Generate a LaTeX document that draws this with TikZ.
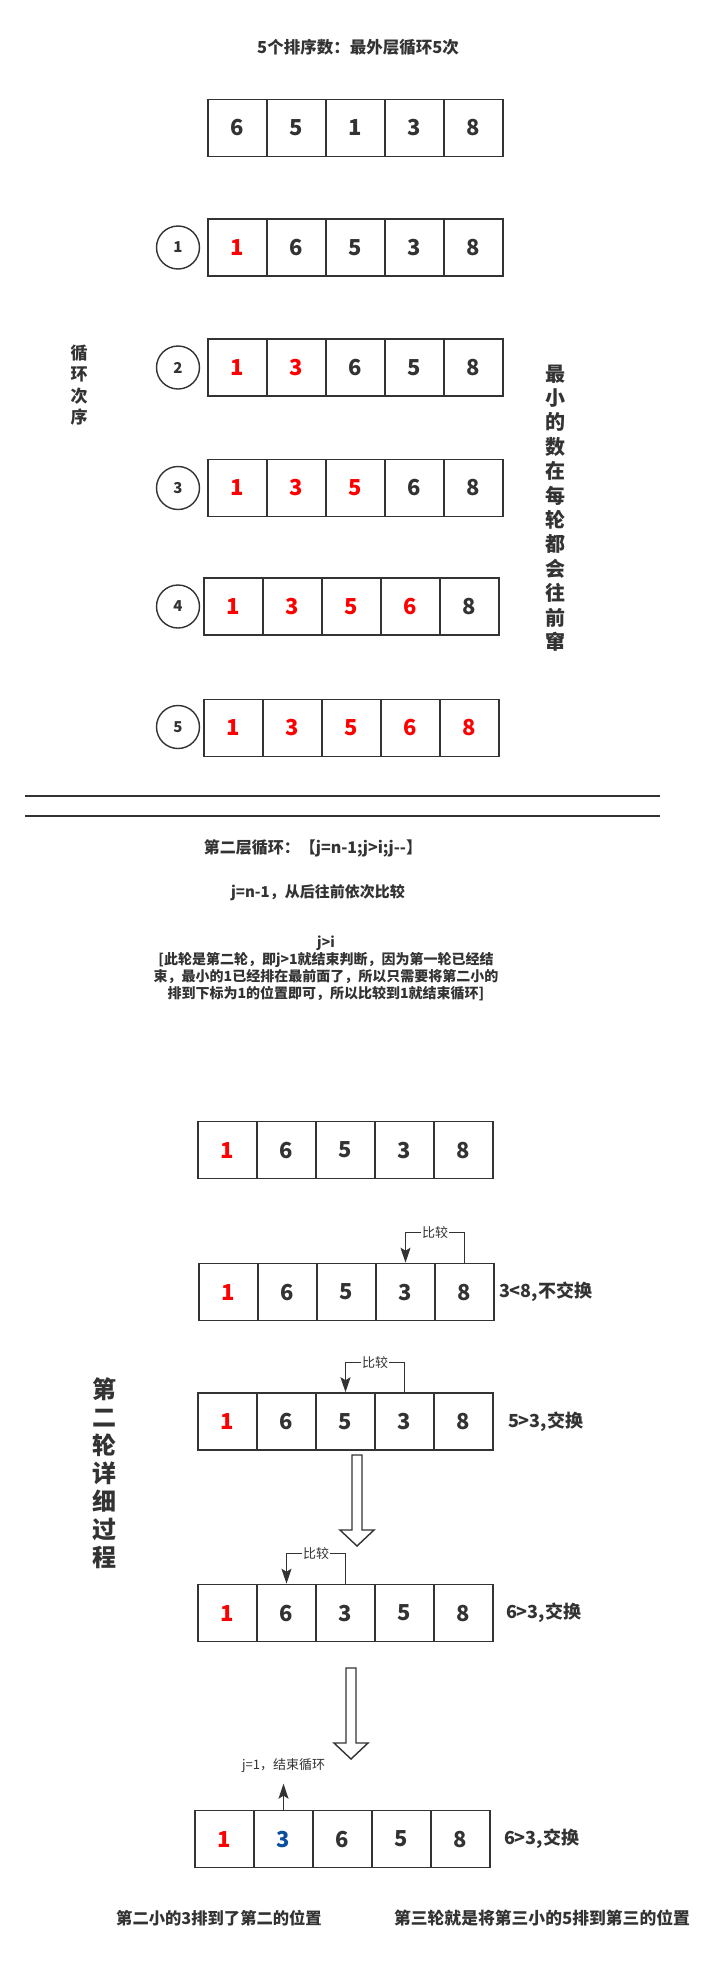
\documentclass[tikz,border=0pt]{standalone}
\usepackage{fontspec}
\setmainfont{Noto Sans CJK SC}
\usepackage{xcolor}
\usepackage{tikz}
\usetikzlibrary{positioning}
\usetikzlibrary{arrows.meta}
\definecolor{ink}{HTML}{333333}
\definecolor{hot}{HTML}{FF0000}
\definecolor{cool}{HTML}{0A4F9E}
\newcommand{\px}[1]{\fontsize{#1}{#1}\selectfont}
% five boxes in a row: name, left edge, middle height, value/colour list
\newcommand{\boxrow}[4]{%
  \foreach \v/\c [count=\k] in {#4}
    \node[cell,text=\c] (#1\k) at ({#2+29.5+59*(\k-1)},#3) {\v};}

\begin{document}
\begin{tikzpicture}[x=1pt,y=-1pt,>={Stealth[length=15pt,width=10pt,inset=3pt]},
  cell/.style={draw=ink,line width=1.6pt,minimum width=59pt,minimum height=57pt,inner sep=0pt,font=\px{22}\bfseries},
  ringnum/.style={draw=ink,circle,line width=1.4pt,minimum size=43pt,inner sep=0pt,text=ink,font=\px{15}\bfseries},
  note/.style={text=ink,inner sep=0pt,font=\px{#1}\bfseries},
  cmp/.style={fill=white,text=ink,inner sep=1pt,font=\px{13}}]
  \useasboundingbox (0,0) rectangle (716,1967);
  % outer loop
  \node[note=16.5] (title) at (358,47) {5个排序数：最外层循环5次};
  \boxrow{o}{208}{128}{6/ink,5/ink,1/ink,3/ink,8/ink}
  \boxrow{ra}{208}{247.5}{1/hot,6/ink,5/ink,3/ink,8/ink}
  \boxrow{rb}{208}{367.5}{1/hot,3/hot,6/ink,5/ink,8/ink}
  \boxrow{rc}{208}{488}{1/hot,3/hot,5/hot,6/ink,8/ink}
  \boxrow{rd}{204}{606.5}{1/hot,3/hot,5/hot,6/hot,8/ink}
  \boxrow{re}{204}{728}{1/hot,3/hot,5/hot,6/hot,8/hot}
  \node[ringnum] (n1) at (178,247.5) {1};
  \node[ringnum] (n2) at (178,367.5) {2};
  \node[ringnum] (n3) at (178,488) {3};
  \node[ringnum] (n4) at (178,606.5) {4};
  \node[ringnum] (n5) at (178,727) {5};
  \node[note=17,align=center,font=\fontsize{17}{21.5}\selectfont\bfseries] (order) at (79,385) {循\\环\\次\\序};
  \node[note=20,align=center,font=\fontsize{20}{24.4}\selectfont\bfseries] (moves) at (555,508)
    {最\\小\\的\\数\\在\\每\\轮\\都\\会\\往\\前\\窜};
  % divider
  \draw[ink,line width=2pt] (25,796) -- (660,796);
  \draw[ink,line width=2pt] (25,816) -- (660,816);
  % inner loop
  \node[note=16] (inner) at (313,848) {第二层循环：【j=n-1;j>i;j-{}-】};
  \node[note=15] (start) at (318,893) {j=n-1，从后往前依次比较};
  \node[note=14,align=center,font=\fontsize{14}{17}\selectfont\bfseries] (stop) at (326,968.5)
    {j>i\\{[}此轮是第二轮，即j>1就结束判断，因为第一轮已经结\\束，最小的1已经排在最前面了，所以只需要将第二小的\\排到下标为1的位置即可，所以比较到1就结束循环]};
  \node[note=24,align=center,font=\fontsize{24}{28}\selectfont\bfseries] (detail) at (104,1473)
    {第\\二\\轮\\详\\细\\过\\程};
  % second round, step by step
  \boxrow{da}{198}{1150}{1/hot,6/ink,5/ink,3/ink,8/ink}
  \boxrow{db}{199}{1292}{1/hot,6/ink,5/ink,3/ink,8/ink}
  \boxrow{dc}{198}{1421.5}{1/hot,6/ink,5/ink,3/ink,8/ink}
  \boxrow{dd}{198}{1613}{1/hot,6/ink,3/ink,5/ink,8/ink}
  \boxrow{de}{195}{1839}{1/hot,3/cool,6/ink,5/ink,8/ink}
  \draw[ink,line width=1.4pt,->] (db5.north) -- ++(0,-30) -| node[pos=0.25,cmp] {比较} (db4.north);
  \draw[ink,line width=1.4pt,->] (dc4.north) -- ++(0,-30) -| node[pos=0.25,cmp] {比较} (dc3.north);
  \draw[ink,line width=1.4pt,->] (dd3.north) -- ++(0,-30) -| node[pos=0.25,cmp] {比较} (dd2.north);
  \node[note=18,right=4pt of db5] (l1) {3<8,不交换};
  \node[note=18,right=14pt of dc5] (l2) {5>3,交换};
  \node[note=18,right=12pt of dd5] (l3) {6>3,交换};
  \node[note=18,right=13pt of de5] (l4) {6>3,交换};
  % hollow arrows
  \draw[ink,line width=1.4pt] (352,1455) -- (362,1455) -- (362,1530) -- (374,1530) -- (357,1546) -- (340,1530) -- (352,1530) -- cycle;
  \draw[ink,line width=1.4pt] (346,1668) -- (356,1668) -- (356,1743) -- (368,1743) -- (351,1759) -- (334,1743) -- (346,1743) -- cycle;
  \draw[ink,line width=1.4pt,->] (de2.north) -- ++(0,-26) coordinate (jend);
  \node[text=ink,inner sep=0pt,font=\px{13},above=11pt of jend] (jone) {j=1，结束循环};
  % summary
  \node[note=16.3] (sum1) at (219,1918) {第二小的3排到了第二的位置};
  \node[note=16.8] (sum2) at (542,1918) {第三轮就是将第三小的5排到第三的位置};
\end{tikzpicture}
\end{document}
